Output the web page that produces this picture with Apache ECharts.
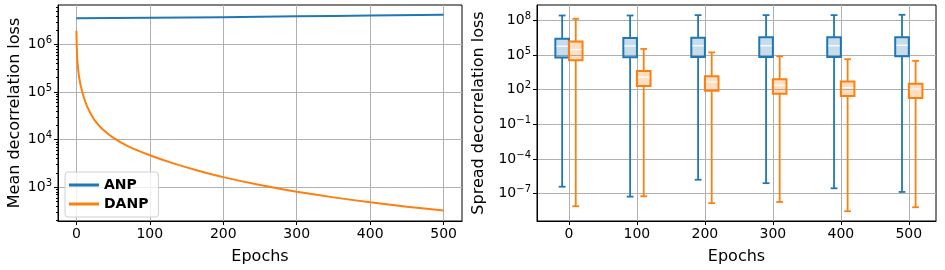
<!DOCTYPE html>
<html>
<head>
<meta charset="utf-8">
<script src="https://cdn.jsdelivr.net/npm/echarts@6/dist/echarts.min.js"></script>
<style>
html, body { margin: 0; padding: 0; background: #fff; }
#chart { width: 945px; height: 270px; }
</style>
</head>
<body>
<div id="chart"></div>
<script>
// left panel: mean loss per epoch
const anpEpochs = [0, 100, 200, 300, 400, 500];
const anpLoss = [3.55e6, 3.65e6, 3.75e6, 3.9e6, 4.05e6, 4.2e6];
const danpEpochs = [0, 1, 2, 3, 4, 6, 9, 13, 18, 25, 35, 50, 70, 100, 130, 165, 200, 250, 300, 350, 400, 450, 500];
const danpLoss = [1.93e6, 5.6e5, 3.5e5, 2.5e5, 1.95e5, 1.35e5, 8.9e4, 5.75e4, 3.9e4, 2.55e4, 1.7e4, 1.1e4, 7.3e3, 4.7e3, 3.25e3, 2.25e3, 1.63e3, 1.11e3, 805, 612, 482, 390, 323];

// right panel: spread per epoch, [min, q1, median, q3, max]
const boxEpochs = [0, 100, 200, 300, 400, 500];
const anpSpread = [
    [4.0e-7, 6.2e4, 5.8e5, 2.6e6, 2.7e8],
    [5.5e-8, 6.6e4, 6.2e5, 3.0e6, 2.7e8],
    [1.6e-6, 6.9e4, 6.5e5, 3.2e6, 2.9e8],
    [8.1e-7, 6.9e4, 6.5e5, 3.5e6, 2.9e8],
    [2.9e-7, 6.9e4, 6.5e5, 3.5e6, 2.9e8],
    [1.4e-7, 7.9e4, 7.1e5, 3.5e6, 3.1e8]
];
const danpSpread = [
    [8.1e-9, 3.6e4, 3.0e5, 1.5e6, 1.4e8],
    [5.9e-8, 210, 1.2e3, 4.1e3, 3.4e5],
    [1.5e-8, 83, 460, 1.5e3, 1.7e5],
    [1.9e-8, 46, 240, 790, 7.9e4],
    [3.0e-9, 29, 150, 520, 4.4e4],
    [6.6e-9, 19.5, 110, 330, 3.2e4]
];

const BLUE = '#1f77b4';
const ORANGE = '#ff7f0e';
const FONT = 'DejaVu Sans';
// right panel uses log10(value) + SHIFT on a value axis, so ticks land on 10^-7, 10^-4, ...
const SHIFT = 1;

// minor ticks of the left log axis: 2..9 x 10^n
const minorTicks = [];
for (let n = 2; n <= 6; n++) {
    for (let k = 2; k <= 9; k++) minorTicks.push(k * Math.pow(10, n));
}

function powLabel(exp) {
    return '{b|10}{s|' + String(exp).replace('-', '−') + '}';
}

function boxData(stats, offset) {
    return stats.map((s, i) => [boxEpochs[i] + offset].concat(s.map(v => Math.log10(v) + SHIFT)));
}

function boxRenderer(color, fill) {
    return function (params, api) {
        const x = api.value(0);
        const pMin = api.coord([x, api.value(1)]);
        const pQ1 = api.coord([x, api.value(2)]);
        const pMed = api.coord([x, api.value(3)]);
        const pQ3 = api.coord([x, api.value(4)]);
        const pMax = api.coord([x, api.value(5)]);
        const hb = api.size([20, 0])[0] / 2;
        const hc = api.size([10, 0])[0] / 2;
        const cx = pMed[0];
        const line = (x1, y1, x2, y2, w) => ({
            type: 'line',
            shape: { x1: x1, y1: y1, x2: x2, y2: y2 },
            style: { stroke: color, lineWidth: w }
        });
        return {
            type: 'group',
            children: [
                line(cx, pMin[1], cx, pQ1[1], 1.8),
                line(cx, pQ3[1], cx, pMax[1], 1.8),
                line(cx - hc, pMin[1], cx + hc, pMin[1], 1.8),
                line(cx - hc, pMax[1], cx + hc, pMax[1], 1.8),
                {
                    type: 'rect',
                    shape: { x: cx - hb, y: pQ3[1], width: hb * 2, height: pQ1[1] - pQ3[1] },
                    style: { fill: fill, stroke: color, lineWidth: 2 }
                },
                {
                    type: 'line',
                    shape: { x1: cx - hb + 1, y1: pMed[1], x2: cx + hb - 1, y2: pMed[1] },
                    style: { stroke: 'rgba(255,255,255,0.8)', lineWidth: 1.5 }
                }
            ]
        };
    };
}

const tickLabel = { fontFamily: FONT, fontSize: 14, color: '#000' };
const powRich = {
    b: { fontFamily: FONT, fontSize: 14, lineHeight: 18, color: '#000' },
    s: { fontFamily: FONT, fontSize: 10, lineHeight: 11, verticalAlign: 'top', color: '#000' }
};
const nameStyle = { fontFamily: FONT, fontSize: 16, color: '#000' };
const gridLine = { lineStyle: { color: '#b0b0b0', width: 1 } };
const blackLine = { onZero: false, lineStyle: { color: '#000', width: 1 } };
const blackTick = { show: true, length: 4, lineStyle: { color: '#000' } };

const chart = echarts.init(document.getElementById('chart'));

const option = {
    animation: false,
    backgroundColor: '#fff',
    textStyle: { fontFamily: FONT },
    grid: [
        { left: 58, top: 5, width: 404, height: 217, show: true, borderColor: '#000', borderWidth: 1, backgroundColor: 'transparent' },
        { left: 537, top: 5, width: 399, height: 217, show: true, borderColor: '#000', borderWidth: 1, backgroundColor: 'transparent' }
    ],
    legend: {
        data: ['ANP', 'DANP'],
        orient: 'vertical',
        left: 65,
        top: 172,
        icon: 'rect',
        itemWidth: 30,
        itemHeight: 3,
        itemGap: 5,
        padding: [6, 10, 6, 4],
        backgroundColor: 'rgba(255,255,255,0.8)',
        borderColor: '#d0d0d0',
        borderWidth: 1,
        borderRadius: 3,
        textStyle: { fontFamily: FONT, fontSize: 14, fontWeight: 'bold', color: '#000' }
    },
    xAxis: [
        {
            gridIndex: 0, type: 'value', min: -25, max: 525,
            splitNumber: 5, minInterval: 100, maxInterval: 100,
            name: 'Epochs', nameLocation: 'middle', nameGap: 28, nameTextStyle: nameStyle,
            axisLine: blackLine,
            axisTick: blackTick,
            axisLabel: Object.assign({ margin: 6, showMinLabel: false, showMaxLabel: false }, tickLabel),
            splitLine: Object.assign({ show: true, showMinLine: false, showMaxLine: false }, gridLine)
        },
        {
            gridIndex: 1, type: 'value', min: -47, max: 540,
            splitNumber: 5, minInterval: 100, maxInterval: 100,
            name: 'Epochs', nameLocation: 'middle', nameGap: 28, nameTextStyle: nameStyle,
            axisLine: blackLine,
            axisTick: blackTick,
            axisLabel: Object.assign({ margin: 6, showMinLabel: false, showMaxLabel: false }, tickLabel),
            splitLine: Object.assign({ show: true, showMinLine: false, showMaxLine: false }, gridLine)
        }
    ],
    yAxis: [
        {
            gridIndex: 0, type: 'log', logBase: 10, min: 195, max: 6.76e6,
            name: 'Mean decorrelation loss', nameLocation: 'middle', nameGap: 35, nameTextStyle: nameStyle,
            axisLine: blackLine,
            axisTick: blackTick,
            axisLabel: Object.assign({
                margin: 6, showMinLabel: false, showMaxLabel: false, rich: powRich,
                formatter: function (v) {
                    const e = Math.log10(v);
                    return Math.abs(e - Math.round(e)) < 1e-6 ? powLabel(Math.round(e)) : '';
                }
            }, tickLabel),
            splitLine: Object.assign({ show: true, showMinLine: false, showMaxLine: false }, gridLine)
        },
        {
            gridIndex: 1, type: 'value', min: -9.37 + SHIFT, max: 9.34 + SHIFT,
            splitNumber: 6, minInterval: 3, maxInterval: 3,
            name: 'Spread decorrelation loss', nameLocation: 'middle', nameGap: 50, nameTextStyle: nameStyle,
            axisLine: blackLine,
            axisTick: blackTick,
            axisLabel: Object.assign({
                margin: 6, showMinLabel: false, showMaxLabel: false, rich: powRich,
                formatter: function (v) {
                    const e = v - SHIFT;
                    return Math.abs(e - Math.round(e)) < 1e-6 ? powLabel(Math.round(e)) : '';
                }
            }, tickLabel),
            splitLine: Object.assign({ show: true, showMinLine: false, showMaxLine: false }, gridLine)
        },
        {
            // minor ticks only
            gridIndex: 0, type: 'log', logBase: 10, min: 195, max: 6.76e6, position: 'left',
            axisLine: { show: false, onZero: false },
            axisTick: { show: true, length: 2, customValues: minorTicks, lineStyle: { color: '#000' } },
            axisLabel: { show: false },
            splitLine: { show: false }
        }
    ],
    series: [
        {
            name: 'ANP', type: 'line', xAxisIndex: 0, yAxisIndex: 0,
            data: anpEpochs.map((e, i) => [e, anpLoss[i]]),
            showSymbol: false, symbol: 'none', smooth: true,
            lineStyle: { color: BLUE, width: 2 }, itemStyle: { color: BLUE }, z: 3
        },
        {
            name: 'DANP', type: 'line', xAxisIndex: 0, yAxisIndex: 0,
            data: danpEpochs.map((e, i) => [e, danpLoss[i]]),
            showSymbol: false, symbol: 'none', smooth: 0.2,
            lineStyle: { color: ORANGE, width: 2 }, itemStyle: { color: ORANGE }, z: 3
        },
        {
            name: 'ANP spread', type: 'custom', xAxisIndex: 1, yAxisIndex: 1,
            data: boxData(anpSpread, -10),
            encode: { x: 0, y: [1, 2, 3, 4, 5] },
            renderItem: boxRenderer(BLUE, 'rgba(31,119,180,0.25)'), z: 3
        },
        {
            name: 'DANP spread', type: 'custom', xAxisIndex: 1, yAxisIndex: 1,
            data: boxData(danpSpread, 10),
            encode: { x: 0, y: [1, 2, 3, 4, 5] },
            renderItem: boxRenderer(ORANGE, 'rgba(255,127,14,0.25)'), z: 3
        }
    ]
};

chart.setOption(option);
</script>
</body>
</html>
